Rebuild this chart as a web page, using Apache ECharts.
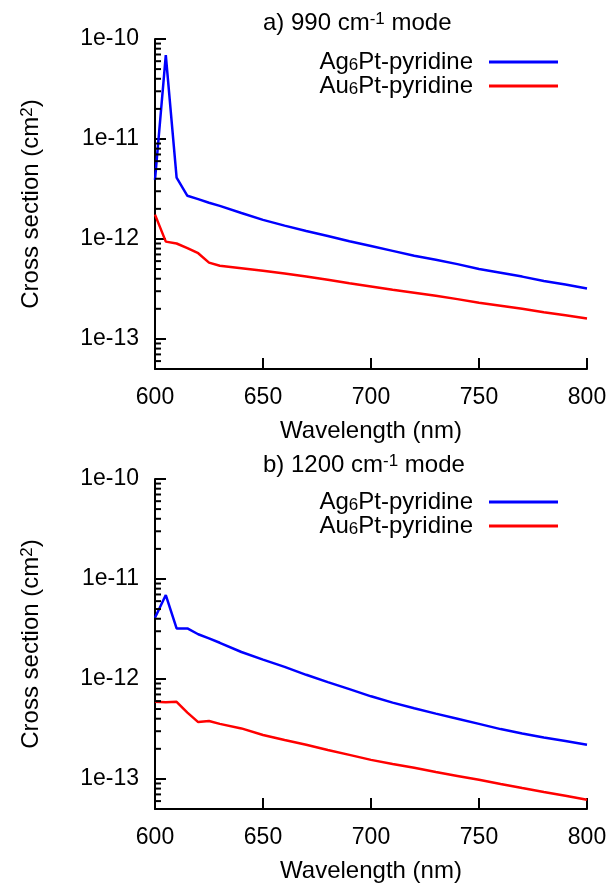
<!DOCTYPE html>
<html>
<head>
<meta charset="utf-8">
<script src="https://cdn.jsdelivr.net/npm/echarts@6/dist/echarts.min.js"></script>
<style>
html,body{margin:0;padding:0;background:#fff;}
#c{width:614px;height:886px;}
</style>
</head>
<body>
<div id="c"></div>
<script>
// ---- data ----
var wlA = [600,605,610,615,620,625,630,640,650,660,670,680,690,700,710,720,730,740,750,760,770,780,790,800];
var agA = [3.9e-12,6.9e-11,4.1e-12,2.7e-12,2.5e-12,2.3e-12,2.14e-12,1.82e-12,1.55e-12,1.36e-12,1.2e-12,1.07e-12,9.5e-13,8.5e-13,7.6e-13,6.8e-13,6.2e-13,5.6e-13,5.0e-13,4.6e-13,4.2e-13,3.8e-13,3.5e-13,3.2e-13];
var auA = [1.75e-12,9.4e-13,9.0e-13,8.1e-13,7.2e-13,5.8e-13,5.4e-13,5.1e-13,4.8e-13,4.5e-13,4.2e-13,3.9e-13,3.6e-13,3.35e-13,3.1e-13,2.9e-13,2.7e-13,2.5e-13,2.3e-13,2.15e-13,2.0e-13,1.85e-13,1.72e-13,1.6e-13];

var wlB = [600,605,610,615,620,625,630,640,650,660,670,680,690,700,710,720,730,740,750,760,770,780,790,800];
var agB = [4.1e-12,6.9e-12,3.2e-12,3.2e-12,2.8e-12,2.55e-12,2.3e-12,1.86e-12,1.56e-12,1.32e-12,1.1e-12,9.3e-13,7.9e-13,6.7e-13,5.8e-13,5.1e-13,4.5e-13,4.0e-13,3.55e-13,3.15e-13,2.85e-13,2.6e-13,2.4e-13,2.2e-13];
var auB = [5.9e-13,5.85e-13,5.9e-13,4.6e-13,3.7e-13,3.8e-13,3.55e-13,3.2e-13,2.75e-13,2.45e-13,2.2e-13,1.95e-13,1.74e-13,1.55e-13,1.41e-13,1.29e-13,1.17e-13,1.07e-13,9.8e-14,8.9e-14,8.1e-14,7.4e-14,6.8e-14,6.2e-14];

var seriesNames = ['Ag6Pt-pyridine','Au6Pt-pyridine'];
var titleA = 'a) 990 cm-1 mode';
var titleB = 'b) 1200 cm-1 mode';
var xTicks = [600,650,700,750,800];
var yMajor = [1e-13,1e-12,1e-11,1e-10];
var yMinor = [6e-14,7e-14,8e-14,9e-14,
  2e-13,3e-13,4e-13,5e-13,6e-13,7e-13,8e-13,9e-13,
  2e-12,3e-12,4e-12,5e-12,6e-12,7e-12,8e-12,9e-12,
  2e-11,3e-11,4e-11,5e-11,6e-11,7e-11,8e-11,9e-11];

function pairs(xs, ys){ return xs.map(function(x,i){return [x, ys[i]];}); }

var FONT = 'Liberation Sans, Arial, Helvetica, sans-serif';
var FS = 24;   // names, titles, legend
var FT = 23;   // tick labels
var richBase = {
  n: {fontSize: FS, fontFamily: FONT, color:'#000', lineHeight: 24},
  sub: {fontSize: 17, fontFamily: FONT, color:'#000', lineHeight: 6, verticalAlign: 'bottom'},
  sup: {fontSize: 17, fontFamily: FONT, color:'#000', lineHeight: 6, verticalAlign: 'top'},
  np: {fontSize: FS, fontFamily: FONT, color:'#000', lineHeight: 24, padding:[0,11,0,0]}
};

function legendFmt(name){
  var m = name.match(/^([A-Za-z]+)(\d)(.*)$/);
  return '{n|' + m[1] + '}{sub|' + m[2] + '}{np|' + m[3] + '}';
}
function titleFmt(t){
  var m = t.match(/^(.*cm)(-1)(.*)$/);
  return '{n|' + m[1] + '}{sup|' + m[2] + '}{n|' + m[3] + '}';
}

var grids = [
  {left:155, top:39, width:432, height:330},
  {left:155, top:479, width:432, height:330}
];

function xAxis(gi){
  return {
    type:'value', gridIndex:gi, min:600, max:800, interval:50,
    name:'Wavelength (nm)', nameLocation:'middle', nameGap:50,
    nameTextStyle:{fontSize:FS, fontFamily:FONT, color:'#000'},
    axisLine:{show:true, onZero:false, lineStyle:{color:'#000', width:2}},
    axisTick:{show:true, inside:true, length:11, lineStyle:{color:'#000', width:2}},
    axisLabel:{fontSize:FT, fontFamily:FONT, color:'#000', margin:17},
    splitLine:{show:false}
  };
}
function yAxis(gi){
  return {
    type:'log', logBase:10, gridIndex:gi, min:5e-14, max:1e-10,
    name:'{n|Cross section (cm}{sup|2}{n|)}', nameLocation:'middle', nameGap:112,
    nameTextStyle:{fontSize:FS, fontFamily:FONT, color:'#000', rich:richBase},
    axisLine:{show:true, lineStyle:{color:'#000', width:2}},
    axisTick:{show:true, inside:true, length:11, lineStyle:{color:'#000', width:2}},
    axisLabel:{fontSize:FT, fontFamily:FONT, color:'#000', margin:16,
      formatter:function(v){
        var l = Math.log10(v); var r = Math.round(l);
        if (Math.abs(l-r) > 1e-6) return '';
        return '1e' + r;
      }},
    splitLine:{show:false},
    minorTick:{show:false}
  };
}

function minorSeries(gi){
  return {
    type:'custom', xAxisIndex:gi, yAxisIndex:gi, silent:true,
    data: yMinor.map(function(v){return [600, v];}),
    renderItem:function(params, api){
      var p = api.coord([api.value(0), api.value(1)]);
      return {type:'line', shape:{x1:p[0], y1:p[1], x2:p[0]+6, y2:p[1]},
        style:{stroke:'#000', lineWidth:2}};
    },
    z:5
  };
}

function lineSeries(name, gi, data, color){
  return {
    type:'line', name:name, xAxisIndex:gi, yAxisIndex:gi,
    data:data, showSymbol:false, symbol:'none',
    lineStyle:{color:color, width:2.5}, itemStyle:{color:color},
    z:3
  };
}

function legend(top){
  return {
    orient:'vertical', right:56, top:top, align:'right', padding:0,
    icon:'rect', itemWidth:69, itemHeight:3, itemGap:0,
    data:seriesNames,
    formatter:legendFmt,
    textStyle:{rich:richBase, fontSize:FS, fontFamily:FONT, color:'#000'},
    selectedMode:false
  };
}

var option = {
  animation:false,
  backgroundColor:'#fff',
  title:[
    {text:titleFmt(titleA), left:263, top:11, padding:0, textStyle:{rich:richBase, fontSize:FS, fontWeight:'normal'}},
    {text:titleFmt(titleB), left:263, top:453, padding:0, textStyle:{rich:richBase, fontSize:FS, fontWeight:'normal'}}
  ],
  legend:[legend(50), legend(490)],
  grid:grids,
  xAxis:[xAxis(0), xAxis(1)],
  yAxis:[yAxis(0), yAxis(1)],
  series:[
    lineSeries(seriesNames[0], 0, pairs(wlA, agA), '#0000ff'),
    lineSeries(seriesNames[1], 0, pairs(wlA, auA), '#ff0000'),
    lineSeries(seriesNames[0], 1, pairs(wlB, agB), '#0000ff'),
    lineSeries(seriesNames[1], 1, pairs(wlB, auB), '#ff0000'),
    minorSeries(0), minorSeries(1)
  ]
};

var chart = echarts.init(document.getElementById('c'), null, {renderer:'canvas'});
chart.setOption(option);
</script>
</body>
</html>
